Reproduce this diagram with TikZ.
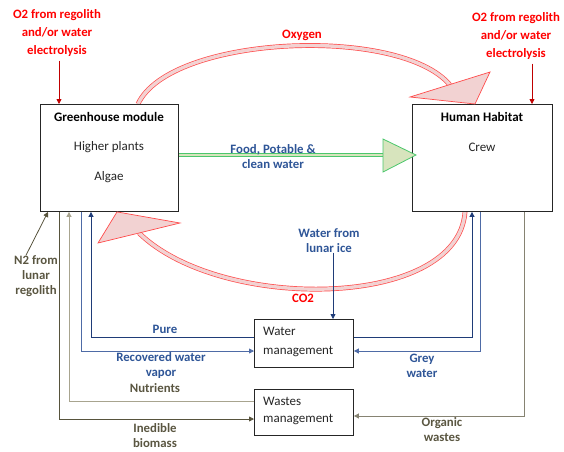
\documentclass[tikz,border=0pt]{standalone}
\usepackage{fontspec}
\setmainfont{Carlito}
\usepackage{tikz}
\usetikzlibrary{arrows.meta, positioning, calc, backgrounds}
\usepackage{xcolor}
\definecolor{labelblue}{HTML}{2E5597}
\definecolor{flowblue}{HTML}{1F3C78}
\definecolor{flowbluelight}{HTML}{4E6BA6}
\definecolor{labelolive}{HTML}{5A5641}
\definecolor{flowolive}{HTML}{57533C}
\definecolor{flowolivelight}{HTML}{A8A48F}
\definecolor{gasred}{HTML}{FF4B4B}
\definecolor{gaspink}{HTML}{F2D2D2}
\definecolor{o2red}{HTML}{C00000}
\definecolor{foodgreen}{HTML}{4CC76C}
\definecolor{foodfill}{HTML}{D7E4BD}

\begin{document}
\begin{tikzpicture}[x=1pt, y=-1pt,
  every node/.style={font=\fontsize{13}{15}\selectfont, inner sep=0pt, text=black!85},
  box/.style={draw=black!85, line width=0.9pt, fill=white, anchor=north west},
  boxtitle/.style={font=\fontsize{13}{15}\selectfont\bfseries, text=black},
  redlbl/.style={text=red, font=\fontsize{12.8}{18}\selectfont\bfseries, align=center},
  bluelbl/.style={text=labelblue, font=\fontsize{12.8}{15}\selectfont\bfseries, align=center},
  olivelbl/.style={text=labelolive, font=\fontsize{12.8}{15}\selectfont\bfseries, align=center},
  tip/.style={-{Triangle[length=5pt, width=5pt]}},
  gasshaft/.style={draw=gasred, line width=0.7pt, double=gaspink, double distance=3.4pt},
  gashead/.style={draw=gasred, line width=0.7pt, fill=gaspink, line join=miter},
  foodshaft/.style={draw=foodgreen, line width=0.9pt, double=foodfill, double distance=2.2pt},
  foodhead/.style={draw=foodgreen, line width=0.8pt, fill=foodfill, line join=miter}
]
\useasboundingbox (0,0) rectangle (564,451);

% modules
\node[box, minimum width=138pt, minimum height=107pt] (gh) at (40,104) {};
\node[box, minimum width=140pt, minimum height=107pt] (hab) at (412,104) {};
\node[box, minimum width=99pt, minimum height=48pt] (water) at (254,319) {};
\node[box, minimum width=99pt, minimum height=46pt] (wastes) at (254,389) {};

\node[boxtitle] (ghtitle) at (109,117) {Greenhouse module};
\node (plants) at (109,147) {Higher plants};
\node (algae) at (109,177) {Algae};
\node[boxtitle] (habtitle) at (482,117) {Human Habitat};
\node (crew) at (482,147) {Crew};
\node[anchor=west, align=left, font=\fontsize{13}{19}\selectfont] (watertxt) at (263,342) {Water\\management};
\node[anchor=west, align=left, font=\fontsize{13}{16.5}\selectfont] (wastestxt) at (263,411) {Wastes\\management};

% gas loop
\coordinate (oxbase) at (450,85);
\coordinate (oxleft) at (410,97);
\coordinate (oxright) at (490,72);
\coordinate (oxtip) at (475,0 |- hab.north);
\coordinate (co2base) at (139,233);
\coordinate (co2left) at (98,243);
\coordinate (co2right) at (180,223);
\coordinate (co2tip) at (117,0 |- gh.south);
\coordinate (foodbase) at (383,155);
\coordinate (foodtip) at ($(hab.west |- 0,155)+(4,0)$);
\begin{scope}[on background layer]
  \draw[gasshaft] (138,0 |- gh.north) .. controls (170,35) and (400,25) .. (oxbase);
  \draw[gasshaft] (465,0 |- hab.south) .. controls (458,310) and (220,312) .. (co2base);
  \draw[foodshaft] (gh.east |- foodbase) -- (foodbase);
\end{scope}
\draw[gashead] (oxleft) -- (oxtip) -- (oxright) -- cycle;
\draw[gashead] (co2left) -- (co2tip) -- (co2right) -- cycle;
\draw[foodhead] (383,139) -- (foodtip) -- (383,172) -- cycle;

\node[text=red, font=\fontsize{12.8}{15}\selectfont\bfseries] (oxlbl) at (302,35) {Oxygen};
\node[text=red, font=\fontsize{12.8}{15}\selectfont\bfseries] (co2lbl) at (303,298) {CO2};
\node[bluelbl] (food) at (273,156.5) {Food, Potable \&\\clean water};

% oxygen supply
\node[redlbl] (o2left) at (57,33) {O2 from regolith\\and/or water\\electrolysis};
\node[redlbl] (o2right) at (516,36) {O2 from regolith\\and/or water\\electrolysis};
\draw[tip, o2red, line width=0.8pt, shorten <=4pt] (59,0 |- o2left.south) -- (59,0 |- gh.north);
\draw[tip, o2red, line width=0.8pt, shorten <=4pt] (532,0 |- o2right.south) -- (532,0 |- hab.north);

% nitrogen
\node[olivelbl] (n2) at (36,276) {N2 from\\lunar\\regolith};
\draw[tip, flowolive, line width=0.8pt] (n2.north -| 26,0) -- (48,0 |- gh.south);

% water loop
\node[bluelbl] (ice) at (329,240.5) {Water from\\lunar ice};
\draw[tip, flowblue, line width=0.8pt] (333,0 |- ice.south) -- (333,0 |- water.north);
\draw[tip, flowblue, line width=0.8pt] (water.west |- 0,337) -| (91,0 |- gh.south);
\draw[tip, flowbluelight, line width=0.8pt] (81,0 |- gh.south) |- (water.west |- 0,351);
\draw[tip, flowblue, line width=0.8pt] (water.east |- 0,337) -| (472,0 |- hab.south);
\draw[tip, flowbluelight, line width=0.8pt] (480,0 |- hab.south) |- (water.east |- 0,351);
\node[bluelbl] (pure) at (165,329) {Pure};
\node[bluelbl] (vapor) at (161,365.5) {Recovered water\\vapor};
\node[bluelbl] (grey) at (422,365.5) {Grey\\water};

% wastes loop
\draw[tip, flowolivelight, line width=0.8pt] (wastes.west |- 0,401) -| (69,0 |- gh.south);
\draw[tip, flowolive, line width=0.8pt] (59,0 |- gh.south) |- (wastes.west |- 0,419);
\draw[tip, flowolivelight!80!black, line width=0.8pt] (524,0 |- hab.south) |- (wastes.east |- 0,416);
\node[olivelbl] (nutr) at (155,388) {Nutrients};
\node[olivelbl] (inedible) at (155,435.5) {Inedible\\biomass};
\node[olivelbl] (organic) at (442,430) {Organic\\wastes};
\end{tikzpicture}
\end{document}
